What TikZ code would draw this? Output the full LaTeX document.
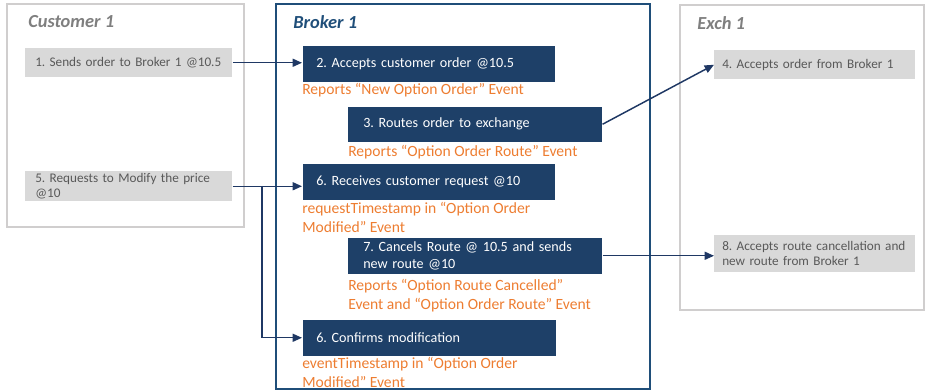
\documentclass[tikz,border=0pt]{standalone}
\usepackage{fontspec}
\setmainfont{Carlito}
\usetikzlibrary{arrows.meta}
\frenchspacing
\definecolor{gfill}{HTML}{D9D9D9}
\definecolor{gline}{HTML}{D0CECE}
\definecolor{gtext}{HTML}{595959}
\definecolor{gtitle}{HTML}{7F7F7F}
\definecolor{navy}{HTML}{1E4068}
\definecolor{bline}{HTML}{1F4E79}
\definecolor{arr}{HTML}{1F3864}
\definecolor{orng}{HTML}{ED7D31}
\tikzset{
  container/.style={draw=gline, line width=1.5pt},
  brokerbox/.style={draw=bline, line width=1.2pt},
  title/.style={anchor=west, font=\fontsize{13.8}{15}\selectfont\bfseries\itshape, inner sep=0pt},
  gstep/.style={fill=gfill, text=gtext, anchor=north west, align=left, inner ysep=0pt,
    font=\fontsize{9.9}{11.5}\selectfont},
  nstep/.style={fill=navy, text=white, anchor=north west, align=left, inner ysep=0pt,
    draw=white, line width=0.4pt, font=\fontsize{10.6}{12.5}\selectfont},
  note/.style={text=orng, anchor=north west, align=left, inner sep=0pt,
    font=\fontsize{11.7}{14.3}\selectfont},
  link/.style={draw=arr, line width=1.1pt, -{Triangle[length=7pt,width=6pt]}}
}
\begin{document}
\begin{tikzpicture}[x=0.75pt,y=-0.75pt]
\useasboundingbox (0,0) rectangle (925,391);
% containers
\draw[container] (7,4) rectangle (244,227);
\draw[container] (680,5) rectangle (924,310);
\draw[brokerbox] (276,4) rectangle (650,389);
\node[title, text=gtitle] (tc) at (28,22) {Customer 1};
\node[title, text=bline] (tb) at (293,22) {Broker 1};
\node[title, text=gtitle] (te) at (697,23) {Exch 1};
% customer steps
\node[gstep, minimum width={207*0.75pt}, minimum height={29*0.75pt}, inner xsep={10*0.75pt}, text width={187*0.75pt}] (b1) at (25,48) {1. Sends order to Broker 1 @10.5};
\node[gstep, minimum width={207*0.75pt}, minimum height={30*0.75pt}, inner xsep={10*0.75pt}, text width={187*0.75pt}] (b5) at (25,171) {5. Requests to Modify the price\\@10};
% broker steps
\node[nstep, minimum width={253*0.75pt}, minimum height={37*0.75pt}, inner xsep={14*0.75pt}, text width={225*0.75pt}] (b2) at (302,45) {2. Accepts customer order @10.5};
\node[note] (n2) at (302,83) {Reports “New Option Order” Event};
\node[nstep, minimum width={255*0.75pt}, minimum height={36*0.75pt}, inner xsep={16*0.75pt}, text width={223*0.75pt}] (b3) at (347,106) {3. Routes order to exchange};
\node[note] (n3) at (348,145) {Reports “Option Order Route” Event};
\node[nstep, minimum width={253*0.75pt}, minimum height={37*0.75pt}, inner xsep={14*0.75pt}, text width={225*0.75pt}] (b6) at (302,163) {6. Receives customer request @10};
\node[note] (n6) at (302,202) {requestTimestamp in “Option Order\\Modified” Event};
\node[nstep, minimum width={255*0.75pt}, minimum height={37*0.75pt}, inner xsep={16*0.75pt}, text width={223*0.75pt}] (b7) at (347,237) {7. Cancels Route @ 10.5 and sends\\new route @10};
\node[note] (n7) at (348,279) {Reports “Option Route Cancelled”\\Event and “Option Order Route” Event};
\node[nstep, minimum width={254*0.75pt}, minimum height={37*0.75pt}, inner xsep={14*0.75pt}, text width={226*0.75pt}] (b9) at (302,319) {6. Confirms modification};
\node[note] (n9) at (302,357) {eventTimestamp in “Option Order\\Modified” Event};
% exchange steps
\node[gstep, minimum width={201*0.75pt}, minimum height={29*0.75pt}, inner xsep={8*0.75pt}, text width={185*0.75pt}] (b4) at (714,50) {4. Accepts order from Broker 1};
\node[gstep, minimum width={201*0.75pt}, minimum height={37*0.75pt}, inner xsep={8*0.75pt}, text width={185*0.75pt}] (b8) at (714,235) {8. Accepts route cancellation and\\new route from Broker 1};
% connectors
\draw[link] (b1.east) -- (b1.east -| b2.west);
\draw[link] (b3.east) -- (b4.west);
\draw[link] (b5.east) -- (b5.east -| b6.west);
\coordinate (j) at (262,186);
\draw[link] (j) |- (b9.west);
\draw[link] (b7.east) -- (b7.east -| b8.west);
\end{tikzpicture}
\end{document}
